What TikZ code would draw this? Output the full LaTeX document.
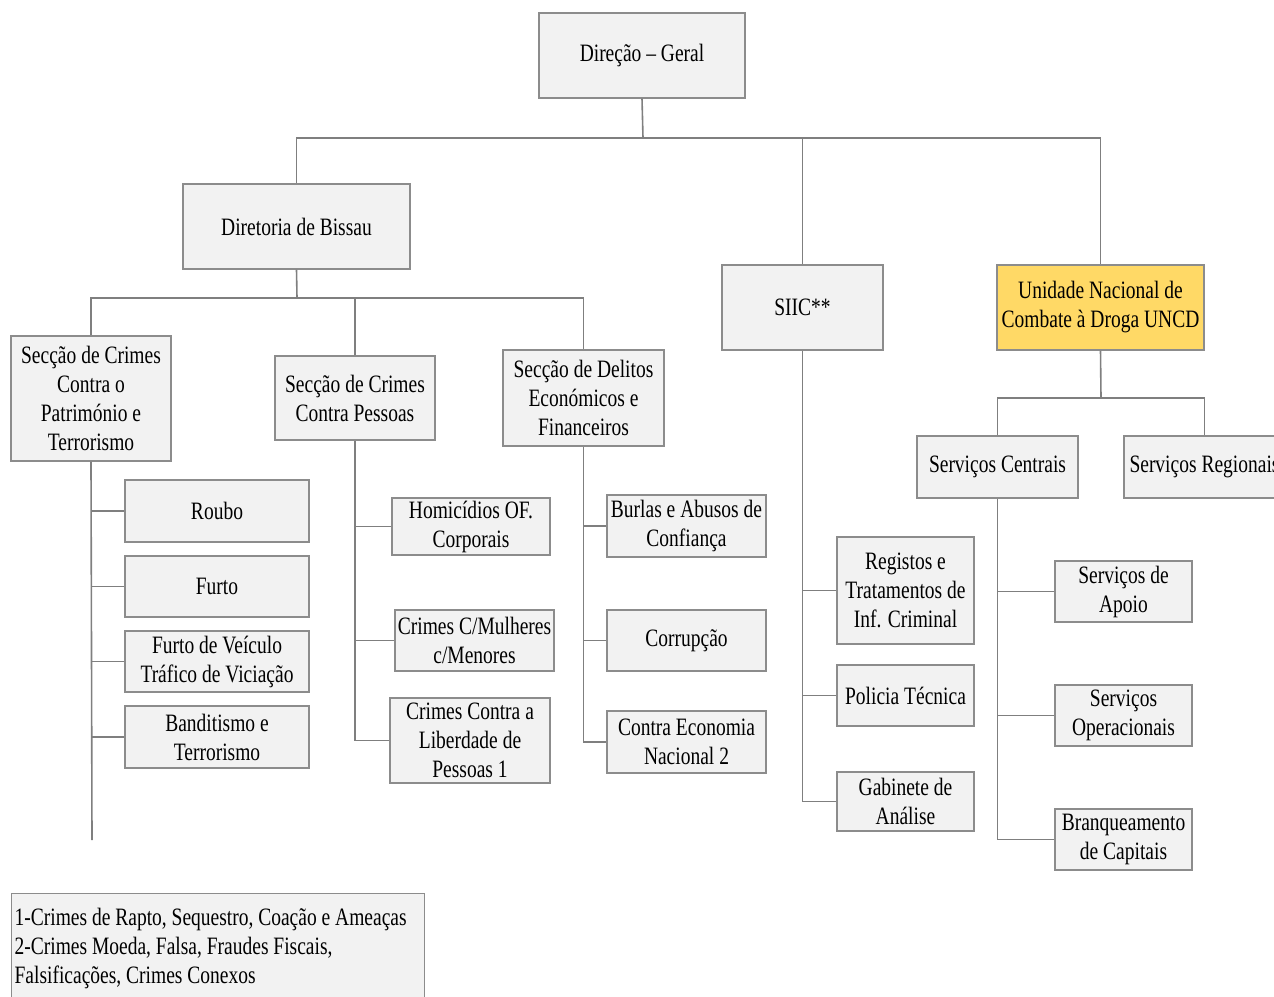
\documentclass[tikz,border=0pt]{standalone}
\usepackage{fontspec}
\setmainfont{Liberation Serif}[FakeStretch=0.78]
\usetikzlibrary{calc}
\definecolor{boxfill}{HTML}{F2F2F2}
\definecolor{boxline}{HTML}{8C8C8C}
\definecolor{linkgray}{HTML}{7F7F7F}
\definecolor{uncdyellow}{HTML}{FFD966}

\begin{document}
\begin{tikzpicture}[x=1pt, y=-1pt,
  unit/.style={draw=boxline, line width=1.2pt, fill=boxfill, inner sep=0pt, align=center,
    font=\fontsize{25}{29}\selectfont},
  link/.style={draw=linkgray, line width=1.6pt}]
\useasboundingbox (0,0) rectangle (1274,996);

% top levels
\node[unit, minimum width=206, minimum height=85] (dg) at (642,55.5) {Direção – Geral};
\node[unit, minimum width=227, minimum height=85] (dbis) at (296.5,226.5) {Diretoria de Bissau};
\node[unit, minimum width=161, minimum height=85] (siic) at (802.5,307.5) {SIIC**};
\node[unit, minimum width=207, minimum height=85, fill=uncdyellow] (uncd) at (1100.5,307.5) {Unidade Nacional de\\Combate à Droga UNCD};

% seccoes
\node[unit, minimum width=160, minimum height=125] (pat) at (91,398.5) {Secção de Crimes\\Contra o\\Património e\\Terrorismo};
\node[unit, minimum width=160, minimum height=84] (pes) at (355,398) {Secção de Crimes\\Contra Pessoas};
\node[unit, minimum width=161, minimum height=96] (del) at (583.5,398) {Secção de Delitos\\Económicos e\\Financeiros};
\node[unit, minimum width=161, minimum height=62] (scen) at (997.5,467) {Serviços Centrais};
\node[unit, minimum width=161, minimum height=62] (sreg) at (1204.5,467) {Serviços Regionais};

% patrimonio
\node[unit, minimum width=184, minimum height=62] (roubo) at (217,511) {Roubo};
\node[unit, minimum width=184, minimum height=61] (furto) at (217,586.5) {Furto};
\node[unit, minimum width=184, minimum height=61] (veic) at (217,661.5) {Furto de Veículo\\Tráfico de Viciação};
\node[unit, minimum width=184, minimum height=62] (band) at (217,737) {Banditismo e\\Terrorismo};

% pessoas
\node[unit, minimum width=158, minimum height=57] (hom) at (471,526.5) {Homicídios OF.\\Corporais};
\node[unit, minimum width=159, minimum height=61] (mul) at (474.5,640.5) {Crimes C/Mulheres\\c/Menores};
\node[unit, minimum width=160, minimum height=85] (lib) at (470,740.5) {Crimes Contra a\\Liberdade de\\Pessoas 1};

% delitos
\node[unit, minimum width=159, minimum height=62] (burl) at (686.5,526) {Burlas e Abusos de\\Confiança};
\node[unit, minimum width=159, minimum height=61] (corr) at (686.5,640.5) {Corrupção};
\node[unit, minimum width=159, minimum height=62] (econ) at (686.5,742) {Contra Economia\\Nacional 2};

% siic
\node[unit, minimum width=137, minimum height=107] (reg) at (905.5,590.5) {Registos e\\Tratamentos de\\Inf. Criminal};
\node[unit, minimum width=137, minimum height=61] (pol) at (905.5,695.5) {Policia Técnica};
\node[unit, minimum width=137, minimum height=59] (gab) at (905.5,801.5) {Gabinete de\\Análise};

% servicos centrais
\node[unit, minimum width=137, minimum height=61] (apoio) at (1123.5,591.5) {Serviços de\\Apoio};
\node[unit, minimum width=137, minimum height=61] (oper) at (1123.5,715.5) {Serviços\\Operacionais};
\node[unit, minimum width=137, minimum height=61] (branq) at (1123.5,839.5) {Branqueamento\\de Capitais};

% notas
\node[unit, anchor=north west, inner xsep=3pt, inner ysep=15pt, align=left] (notas) at (11,893)
  {\makebox[407pt][l]{1-Crimes de Rapto, Sequestro, Coação e Ameaças}\\2-Crimes Moeda, Falsa, Fraudes Fiscais,\\Falsificações, Crimes Conexos};

\coordinate (top) at (643,138);
\coordinate (mid) at (297,298);
\coordinate (ubus) at (1101,398);
\coordinate (patend) at (92,840);

\draw[link] (dg.south) -- (top);
\draw[link] (dbis.north) |- (top) -| (uncd.north);
\draw[link] (siic.north) -- (siic.north |- top);

\draw[link] (dbis.south) -- (mid);
\draw[link] (pat.north) |- (mid) -| (del.north);
\draw[link] (pes.north) -- (pes.north |- mid);

\draw[link] (uncd.south) -- (ubus);
\draw[link] (scen.north) |- (ubus) -| (sreg.north);

\draw[link] (pat.south) -- (patend);
\foreach \n in {roubo,furto,veic,band}
  \draw[link] (\n.west) -- (\n.west -| pat.south);

\draw[link] (pes.south) |- (lib.west);
\foreach \n in {hom,mul}
  \draw[link] (\n.west) -- (\n.west -| pes.south);

\draw[link] (del.south) |- (econ.west);
\foreach \n in {burl,corr}
  \draw[link] (\n.west) -- (\n.west -| del.south);

\draw[link] (siic.south) |- (gab.west);
\foreach \n in {reg,pol}
  \draw[link] (\n.west) -- (\n.west -| siic.south);

\draw[link] (scen.south) |- (branq.west);
\foreach \n in {apoio,oper}
  \draw[link] (\n.west) -- (\n.west -| scen.south);
\end{tikzpicture}
\end{document}
